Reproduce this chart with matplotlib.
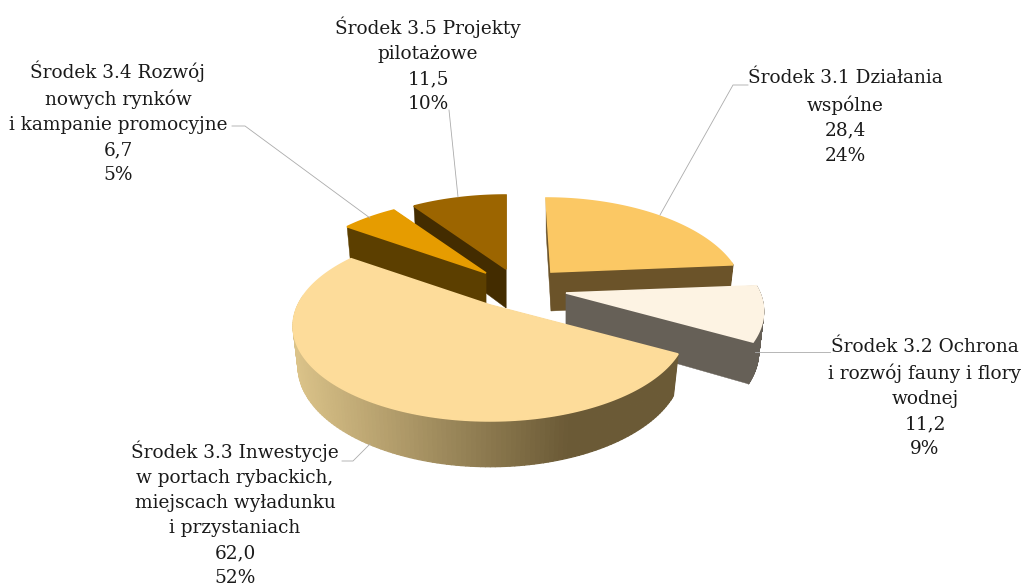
import numpy as np
import matplotlib
matplotlib.use("Agg")
import matplotlib.pyplot as plt
from matplotlib.collections import PolyCollection
from matplotlib.colors import to_rgb
from matplotlib.patches import Polygon

# Data
names = ["Środek 3.1 Działania\nwspólne",
         "Środek 3.2 Ochrona\ni rozwój fauny i flory\nwodnej",
         "Środek 3.3 Inwestycje\nw portach rybackich,\nmiejscach wyładunku\ni przystaniach",
         "Środek 3.4 Rozwój\nnowych rynków\ni kampanie promocyjne",
         "Środek 3.5 Projekty\npilotażowe"]
values = [28.4, 11.2, 62.0, 6.7, 11.5]
percents = [24, 9, 52, 5, 10]

# Look of each slice
top_colors = ["#FBC864", "#FDF3E3", "#FDDC9A", "#E69C00", "#9C6500"]
side_colors = ["#6B5329", "#666057", "#6B5A36", "#5C3F00", "#432C00"]
apex_shift = [(39, -15), (54, 6), (-22, 18), (-26, -14), (-6, -18)]
x_scale = [0.97, 1.01, 1.0, 1.0, 1.0]
x_shear = [-5, 6, 0, 0, 0]
label_pos = [(845, 117), (925, 398), (235, 514), (118, 122), (428, 65)]
leaders = [[(660, 215), (733, 85), (748, 85)],
           [(755, 352), (830, 352)],
           [(370, 444), (353, 461), (342, 461)],
           [(232, 126), (245, 126), (370, 218)],
           [(458, 197), (449, 110)]]
center = (512, 287)
draw_order = [4, 3, 0, 1, 2]


def project(theta, apex, scale, shear):
    # flat pie seen at an angle, the near edge comes out larger
    sx = np.sin(theta)
    cy = np.cos(theta)
    s = 1 / (1 + 0.221 * cy)
    return apex[0] + 192 * scale * sx * s + shear * cy, apex[1] - 90.3 * cy * s, s


def lower(x, y, s, apex):
    # bottom rim: slightly narrower and lower than the top face
    return apex[0] + (x - apex[0]) * 0.975, y + 39 + 24 * (s - 1)


fig = plt.figure(figsize=(10.24, 5.88), dpi=100)
ax = fig.add_axes([0, 0, 1, 1])
ax.set_xlim(0, 1024)
ax.set_ylim(588, 0)
ax.axis("off")

total = sum(values)
edges = np.concatenate([[0], np.cumsum(values)]) / total * 2 * np.pi

for i in draw_order:
    apex = (center[0] + apex_shift[i][0], center[1] + apex_shift[i][1])
    theta = np.linspace(edges[i], edges[i + 1], 160)
    x, y, s = project(theta, apex, x_scale[i], x_shear[i])
    xb, yb = lower(x, y, s, apex)
    apex_low = (apex[0], apex[1] + 39)

    # outer wall, in thin strips so that the big slice can carry a gradient
    strips = []
    strip_colors = []
    for j in range(len(theta) - 1):
        # the back of the rim is hidden by the top face anyway
        if np.cos(theta[j]) > 0.1:
            continue
        strips.append([(x[j], y[j]), (x[j + 1], y[j + 1]), (xb[j + 1], yb[j + 1]), (xb[j], yb[j])])
        if i == 2:
            # light on the left of the wall, dark from about x=570 on
            f = np.clip((x[j] - 291) / (570 - 291), 0, 1)
            c0 = np.array(to_rgb("#DCC48A"))
            c1 = np.array(to_rgb(side_colors[i]))
            strip_colors.append(tuple(c0 + (c1 - c0) * f))
        else:
            strip_colors.append(side_colors[i])
    if strips:
        ax.add_collection(PolyCollection(strips, facecolors=strip_colors, edgecolors=strip_colors, linewidths=0.9))

    # the two cut faces
    for k in [0, -1]:
        ax.add_patch(Polygon([apex, (x[k], y[k]), (xb[k], yb[k]), apex_low],
                             closed=True, fc=side_colors[i], ec=side_colors[i], lw=0.3))

    # top face
    ax.add_patch(Polygon(np.vstack([[apex], np.column_stack([x, y])]),
                         closed=True, fc=top_colors[i], ec=top_colors[i], lw=1.2))

for line in leaders:
    ax.plot([p[0] for p in line], [p[1] for p in line], color="#ABABAB", lw=0.6)

for i in range(len(names)):
    label = names[i] + "\n" + f"{values[i]:.1f}".replace(".", ",") + "\n" + str(percents[i]) + "%"
    ax.text(label_pos[i][0], label_pos[i][1], label, ha="center", va="center", color="#1A1A1A",
            family="DejaVu Serif", fontsize=13.3, linespacing=1.5)

plt.savefig("out.png", dpi=100)
